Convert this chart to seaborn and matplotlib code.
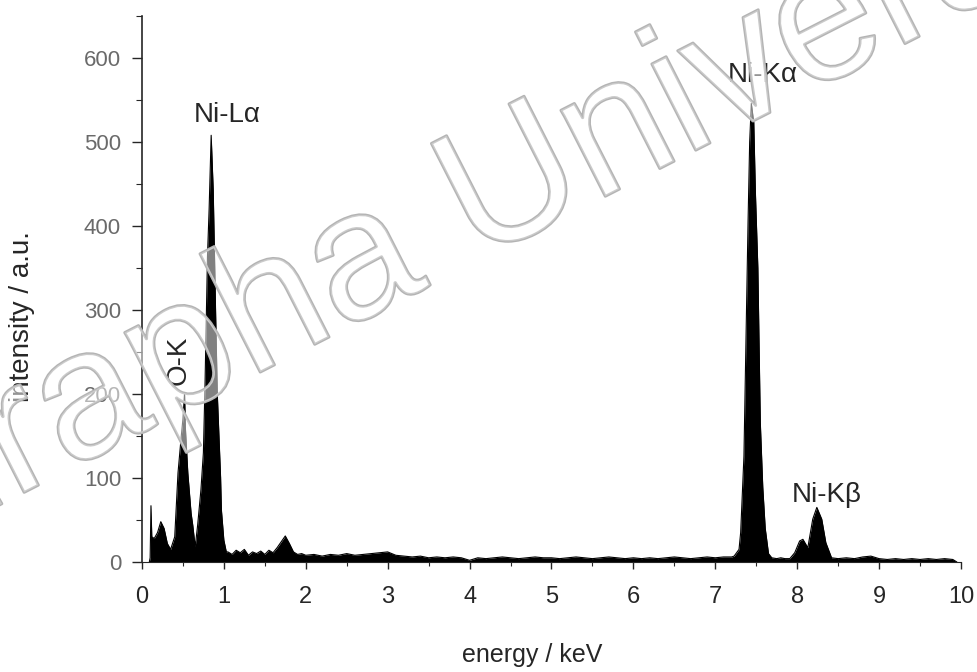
import numpy as np
import pandas as pd
import matplotlib
matplotlib.use('Agg')
import matplotlib.pyplot as plt
import matplotlib.patheffects as pe
from matplotlib.ticker import MultipleLocator
import seaborn as sns

# ------------------------------------------------------------
# EDS spectrum, values
# ------------------------------------------------------------
# low energy part: O-K and Ni-L lines
energy_low = [0.09, 0.10, 0.11, 0.12, 0.15, 0.19, 0.23, 0.27, 0.31, 0.35,
              0.40, 0.44, 0.48, 0.50, 0.52, 0.53, 0.56, 0.60, 0.62, 0.65,
              0.68, 0.72, 0.75, 0.77, 0.80, 0.82, 0.845, 0.87, 0.90, 0.92,
              0.94, 0.96, 0.97, 1.00, 1.03]
counts_low = [0, 5, 67, 30, 28, 35, 48, 40, 22, 15,
              30, 106, 150, 170, 201, 160, 106, 58, 44, 18,
              44, 86, 130, 212, 364, 420, 508, 443, 293, 200,
              150, 101, 62, 26, 12]

# background between the L and K lines
energy_bg = [1.05, 1.10, 1.15, 1.20, 1.25, 1.30, 1.35, 1.40, 1.45, 1.50,
             1.55, 1.60, 1.65, 1.70, 1.75, 1.80, 1.85, 1.90, 1.95, 2.00,
             2.1, 2.2, 2.3, 2.4, 2.5, 2.6, 2.7, 2.8, 2.9, 3.0,
             3.1, 3.2, 3.3, 3.4, 3.5, 3.6, 3.7, 3.8, 3.9, 4.0,
             4.1, 4.2, 4.3, 4.4, 4.5, 4.6, 4.7, 4.8, 4.9, 5.0,
             5.1, 5.2, 5.3, 5.4, 5.5, 5.6, 5.7, 5.8, 5.9, 6.0,
             6.1, 6.2, 6.3, 6.4, 6.5, 6.6, 6.7, 6.8, 6.9, 7.0,
             7.1, 7.2]
counts_bg = [12, 9, 14, 11, 15, 8, 12, 10, 13, 9,
             14, 11, 17, 24, 31, 22, 12, 9, 10, 8,
             9, 7, 9, 8, 10, 8, 9, 10, 11, 12,
             8, 7, 6, 7, 5, 6, 5, 6, 5, 2,
             5, 4, 5, 6, 5, 4, 5, 6, 5, 5,
             4, 5, 6, 5, 4, 5, 6, 5, 4, 5,
             4, 5, 4, 5, 6, 5, 4, 5, 6, 5,
             6, 6]

# Ni-K lines and tail up to 10 keV
energy_k = [7.23, 7.29, 7.31, 7.35, 7.38, 7.40, 7.42, 7.44, 7.47, 7.49,
            7.52, 7.55, 7.58, 7.61, 7.65, 7.69, 7.75, 7.80, 7.85, 7.91,
            7.97, 8.03, 8.07, 8.13, 8.19, 8.24, 8.30, 8.35, 8.42, 8.5,
            8.6, 8.7, 8.8, 8.9, 9.0, 9.1, 9.2, 9.3, 9.4, 9.5,
            9.6, 9.7, 9.8, 9.9, 9.95]
counts_k = [7, 15, 35, 126, 292, 404, 500, 546, 523, 440,
            350, 166, 89, 40, 10, 5, 4, 5, 4, 4,
            11, 25, 27, 17, 51, 65, 51, 23, 5, 4,
            5, 4, 6, 7, 4, 3, 4, 3, 4, 3,
            4, 3, 4, 3, 0]

df = pd.DataFrame({
    'energy': energy_low + energy_bg + energy_k,
    'counts': counts_low + counts_bg + counts_k,
})

# ------------------------------------------------------------
# plot
# ------------------------------------------------------------
sns.set_style('ticks')
plt.rcParams['font.family'] = ['Liberation Sans', 'DejaVu Sans']

fig = plt.figure(figsize=(9.77, 6.72), dpi=100)
ax = fig.add_axes([0.1453, 0.1637, 0.8383, 0.8125])

ax.fill_between(df['energy'], df['counts'], 0, color='black', lw=0)
sns.lineplot(data=df, x='energy', y='counts', ax=ax, color='black', lw=0.8)

ax.set_xlim(0, 10)
ax.set_ylim(0, 650)
ax.xaxis.set_major_locator(MultipleLocator(1))
ax.xaxis.set_minor_locator(MultipleLocator(0.5))
ax.yaxis.set_major_locator(MultipleLocator(100))
ax.yaxis.set_minor_locator(MultipleLocator(50))
ax.set_yticks([0, 100, 200, 300, 400, 500, 600])

ax.tick_params(axis='x', which='major', length=5, width=1, pad=12, labelsize=17)
ax.tick_params(axis='x', which='minor', length=3, width=0.8)
ax.tick_params(axis='y', which='major', length=7, width=1, pad=8, labelsize=16,
               labelcolor='#6a6a6a')
ax.tick_params(axis='y', which='minor', length=4, width=0.8)

for s in ['top', 'right']:
    ax.spines[s].set_visible(False)
ax.spines['left'].set_linewidth(1.2)
ax.spines['bottom'].set_linewidth(0.8)

ax.set_xlabel('energy / keV', fontsize=18)
ax.set_ylabel('intensity / a.u.', fontsize=20)
ax.xaxis.set_label_coords(0.476, -0.170)
ax.yaxis.set_label_coords(-0.147, 0.45)
for lab in [ax.xaxis.label, ax.yaxis.label]:
    lab.set_ha('center')
    lab.set_va('center')

# peak labels
ax.text(1.04, 532, 'Ni-L\u03b1', fontsize=20, ha='center', va='center')
ax.text(0.45, 240, 'O-K', fontsize=20, ha='center', va='center', rotation=90)
ax.text(7.58, 580, 'Ni-K\u03b1', fontsize=20, ha='center', va='center')
ax.text(8.36, 80, 'Ni-K\u03b2', fontsize=20, ha='center', va='center')

# watermark of the scanned source
fig.text(-0.1914, 0.1071, 'Burapha University', fontsize=132, rotation=27,
         rotation_mode='anchor', ha='left', va='baseline',
         color=(1, 1, 1, 0.3), zorder=10,
         path_effects=[pe.Stroke(linewidth=2, foreground='#b4b4b4'), pe.Normal()])

fig.savefig('out.png', dpi=100)
